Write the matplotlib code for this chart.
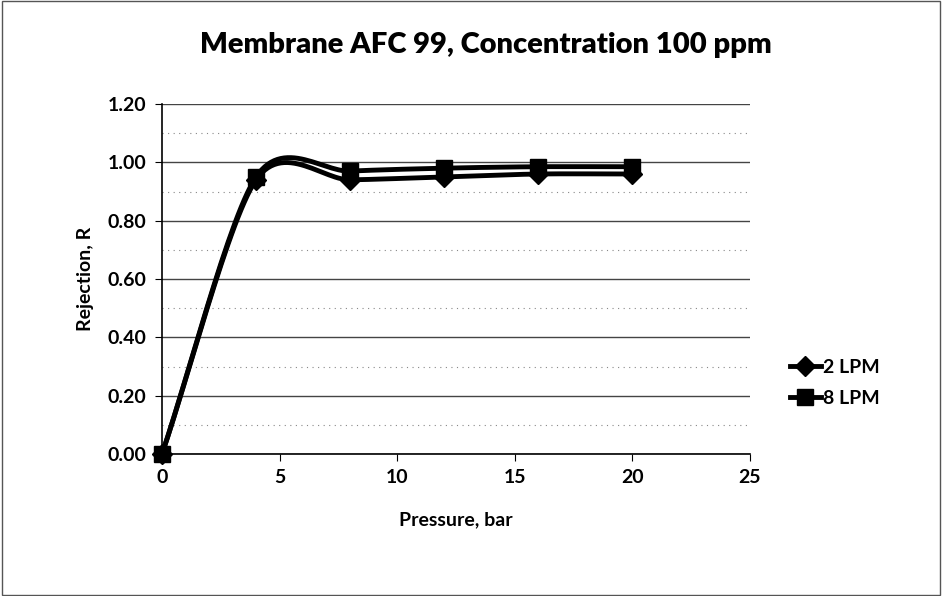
import numpy as np
import matplotlib
matplotlib.use("Agg")
import matplotlib.pyplot as plt
from matplotlib.lines import Line2D

plt.rcParams['font.family'] = ['Lato', 'DejaVu Sans']

pressure = [0, 4, 8, 12, 16, 20]
lpm2 = [0.00, 0.94, 0.94, 0.95, 0.96, 0.96]
lpm8 = [0.00, 0.95, 0.97, 0.98, 0.985, 0.985]
series_names = ['2 LPM', '8 LPM']
y_ticks = [0.0, 0.2, 0.4, 0.6, 0.8, 1.0, 1.2]
x_ticks = [0, 5, 10, 15, 20, 25]


def smooth(x, y, n=30, k=7.0):
    # bezier curve through the points like excel "smoothed line"
    x = np.asarray(x, float)
    y = np.asarray(y, float)
    px = np.concatenate([[2 * x[0] - x[1]], x, [2 * x[-1] - x[-2]]])
    py = np.concatenate([[2 * y[0] - y[1]], y, [2 * y[-1] - y[-2]]])
    xs, ys = [], []
    t = np.linspace(0, 1, n)
    for i in range(1, len(px) - 2):
        p0, p1, p2, p3 = [np.array([px[j], py[j]]) for j in range(i - 1, i + 3)]
        c1 = p1 + (p2 - p0) / k
        c2 = p2 - (p3 - p1) / k
        pts = ((1 - t) ** 3)[:, None] * p1 + (3 * (1 - t) ** 2 * t)[:, None] * c1 \
            + (3 * (1 - t) * t ** 2)[:, None] * c2 + (t ** 3)[:, None] * p2
        xs.extend(pts[:, 0])
        ys.extend(pts[:, 1])
    return np.array(xs), np.array(ys)


fig = plt.figure(figsize=(9.42, 5.96), dpi=100)
ax = fig.add_axes([162 / 942, 1 - 454 / 596, (750 - 162) / 942, (454 - 104) / 596])

for i, yv in enumerate(np.arange(0.0, 1.21, 0.1)):
    if i % 2 == 0:
        ax.axhline(yv, color='#444444', lw=1.0, zorder=1)
    else:
        ax.axhline(yv, color='#888888', lw=0.8, ls=(0, (1, 4)), zorder=1)

sx, sy = smooth(pressure, lpm2)
ax.plot(sx, sy, color='black', lw=3.5, zorder=3, clip_on=False)
ax.plot(pressure, lpm2, ls='none', marker='D', ms=10, color='black', zorder=4, clip_on=False)
sx, sy = smooth(pressure, lpm8)
ax.plot(sx, sy, color='black', lw=3.5, zorder=3, clip_on=False)
ax.plot(pressure, lpm8, ls='none', marker='s', ms=12, color='black', zorder=4, clip_on=False)

ax.set_xlim(0, 25)
ax.set_ylim(0, 1.2)
ax.set_xticks(x_ticks)
ax.set_yticks(y_ticks)
ax.set_yticklabels(['%.2f' % v for v in y_ticks])
ax.tick_params(labelsize=14, length=5, color='black', pad=6)
for lab in ax.get_xticklabels() + ax.get_yticklabels():
    lab.set_fontweight('bold')
for s in ['top', 'right']:
    ax.spines[s].set_visible(False)
ax.spines['left'].set_color('black')
ax.spines['bottom'].set_color('black')
ax.spines['left'].set_linewidth(1.2)
ax.spines['bottom'].set_linewidth(1.2)

ax.set_xlabel('Pressure, bar', fontsize=14, fontweight='bold', labelpad=18)
ax.set_ylabel('Rejection, R', fontsize=14, fontweight='bold', labelpad=10)
fig.text(0.516, 1 - 45 / 596, 'Membrane AFC 99, Concentration 100 ppm',
         ha='center', va='center', fontsize=21, fontweight='heavy')

handles = [Line2D([], [], color='black', lw=3.5, marker='D', ms=10),
           Line2D([], [], color='black', lw=3.5, marker='s', ms=12)]
leg = fig.legend(handles, series_names, loc='center left', bbox_to_anchor=(772 / 942, 1 - 383 / 596),
                 frameon=False, fontsize=14, handlelength=1.6, handletextpad=0.1, labelspacing=0.7)
for t in leg.get_texts():
    t.set_fontweight('bold')

fig.add_artist(plt.Rectangle((0.002, 0.002), 0.996, 0.996, transform=fig.transFigure,
                             fill=False, edgecolor='#555555', lw=1.0))

fig.savefig('out.png', dpi=100)
